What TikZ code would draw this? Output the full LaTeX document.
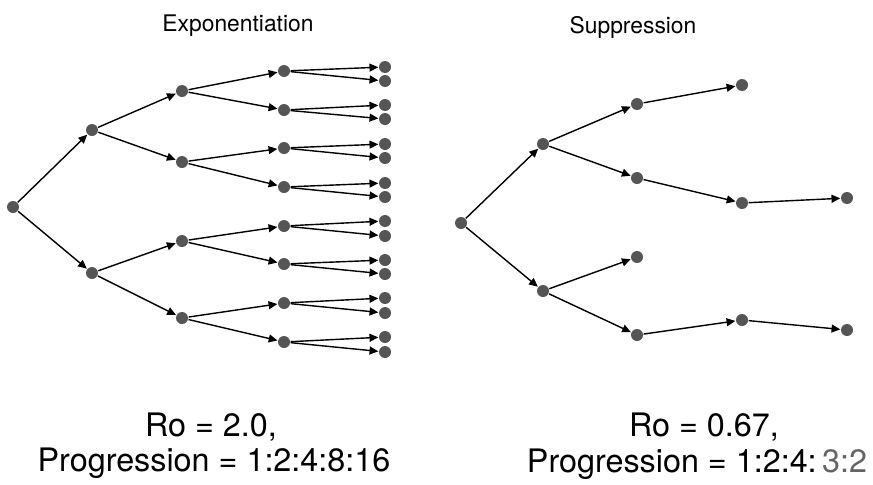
\documentclass[tikz,border=0pt]{standalone}
\usepackage{fontspec}
\setmainfont{TeX Gyre Heros}
\usetikzlibrary{arrows.meta}
\definecolor{dotgray}{RGB}{85,85,85}
\definecolor{textgray}{RGB}{100,100,100}
\begin{document}
\begin{tikzpicture}[
    x=0.2mm, y=-0.2mm,
    dot/.style={circle, fill=dotgray, inner sep=0pt, minimum size=2.4mm},
    >={Triangle[length=5pt,width=4.5pt]},
    every path/.style={line width=0.8pt},
    title/.style={font=\fontsize{13}{15}\selectfont, anchor=base},
    caption/.style={font=\fontsize{18.4}{22}\selectfont, anchor=base}
  ]
    \useasboundingbox (0,0) rectangle (873,484);

    % Titles
    \node[title] at (238,31) (ttlexp) {Exponentiation};
    \node[title] at (633,33) (ttlsup) {Suppression};

    % Exponentiation tree
    \node[dot] at (13,207)  (x)  {};
    \node[dot] at (92,130)  (x1) {};
    \node[dot] at (92,273)  (x2) {};
    \node[dot] at (182,91)  (x11) {};
    \node[dot] at (182,162) (x12) {};
    \node[dot] at (182,241) (x21) {};
    \node[dot] at (182,318) (x22) {};
    \node[dot] at (284,71)  (x111) {};
    \node[dot] at (284,110) (x112) {};
    \node[dot] at (284,148) (x121) {};
    \node[dot] at (284,187) (x122) {};
    \node[dot] at (284,226) (x211) {};
    \node[dot] at (284,264) (x212) {};
    \node[dot] at (284,303) (x221) {};
    \node[dot] at (284,342) (x222) {};
    \node[dot] at (385,67)  (x1111) {};
    \node[dot] at (385,81)  (x1112) {};
    \node[dot] at (385,105) (x1121) {};
    \node[dot] at (385,119) (x1122) {};
    \node[dot] at (385,144) (x1211) {};
    \node[dot] at (385,158) (x1212) {};
    \node[dot] at (385,183) (x1221) {};
    \node[dot] at (385,197) (x1222) {};
    \node[dot] at (385,221) (x2111) {};
    \node[dot] at (385,236) (x2112) {};
    \node[dot] at (385,260) (x2121) {};
    \node[dot] at (385,274) (x2122) {};
    \node[dot] at (385,298) (x2211) {};
    \node[dot] at (385,313) (x2212) {};
    \node[dot] at (385,337) (x2221) {};
    \node[dot] at (385,352) (x2222) {};

    % Suppression tree
    \node[dot] at (461,223) (s)  {};
    \node[dot] at (543,144) (s1) {};
    \node[dot] at (543,291) (s2) {};
    \node[dot] at (637,104) (s11) {};
    \node[dot] at (637,178) (s12) {};
    \node[dot] at (637,257) (s21) {};
    \node[dot] at (637,335) (s22) {};
    \node[dot] at (742,85)  (s111) {};
    \node[dot] at (742,203) (s121) {};
    \node[dot] at (742,320) (s221) {};
    \node[dot] at (847,198) (s1211) {};
    \node[dot] at (847,330) (s2211) {};

    % Connections
    \draw[->] (x) -- (x1);
    \draw[->] (x) -- (x2);
    \draw[->] (x1) -- (x11);
    \draw[->] (x1) -- (x12);
    \draw[->] (x2) -- (x21);
    \draw[->] (x2) -- (x22);
    \draw[->] (x11) -- (x111);
    \draw[->] (x11) -- (x112);
    \draw[->] (x12) -- (x121);
    \draw[->] (x12) -- (x122);
    \draw[->] (x21) -- (x211);
    \draw[->] (x21) -- (x212);
    \draw[->] (x22) -- (x221);
    \draw[->] (x22) -- (x222);
    \draw[->] (x111) -- (x1111);
    \draw[->] (x111) -- (x1112);
    \draw[->] (x112) -- (x1121);
    \draw[->] (x112) -- (x1122);
    \draw[->] (x121) -- (x1211);
    \draw[->] (x121) -- (x1212);
    \draw[->] (x122) -- (x1221);
    \draw[->] (x122) -- (x1222);
    \draw[->] (x211) -- (x2111);
    \draw[->] (x211) -- (x2112);
    \draw[->] (x212) -- (x2121);
    \draw[->] (x212) -- (x2122);
    \draw[->] (x221) -- (x2211);
    \draw[->] (x221) -- (x2212);
    \draw[->] (x222) -- (x2221);
    \draw[->] (x222) -- (x2222);

    \draw[->] (s) -- (s1);
    \draw[->] (s) -- (s2);
    \draw[->] (s1) -- (s11);
    \draw[->] (s1) -- (s12);
    \draw[->] (s2) -- (s21);
    \draw[->] (s2) -- (s22);
    \draw[->] (s11) -- (s111);
    \draw[->] (s12) -- (s121);
    \draw[->] (s121) -- (s1211);
    \draw[->] (s22) -- (s221);
    \draw[->] (s221) -- (s2211);

    % Captions
    \node[caption] at (211,436) (roexp)   {Ro = 2.0,};
    \node[caption] at (214,471) (progexp) {Progression = 1:2:4:8:16};
    \node[caption] at (704,436) (rosup)   {Ro = 0.67,};
    \node[caption] at (697,472) (progsup) {Progression = 1:2:4:\,\textcolor{textgray}{3:2}};

  \end{tikzpicture}
\end{document}
